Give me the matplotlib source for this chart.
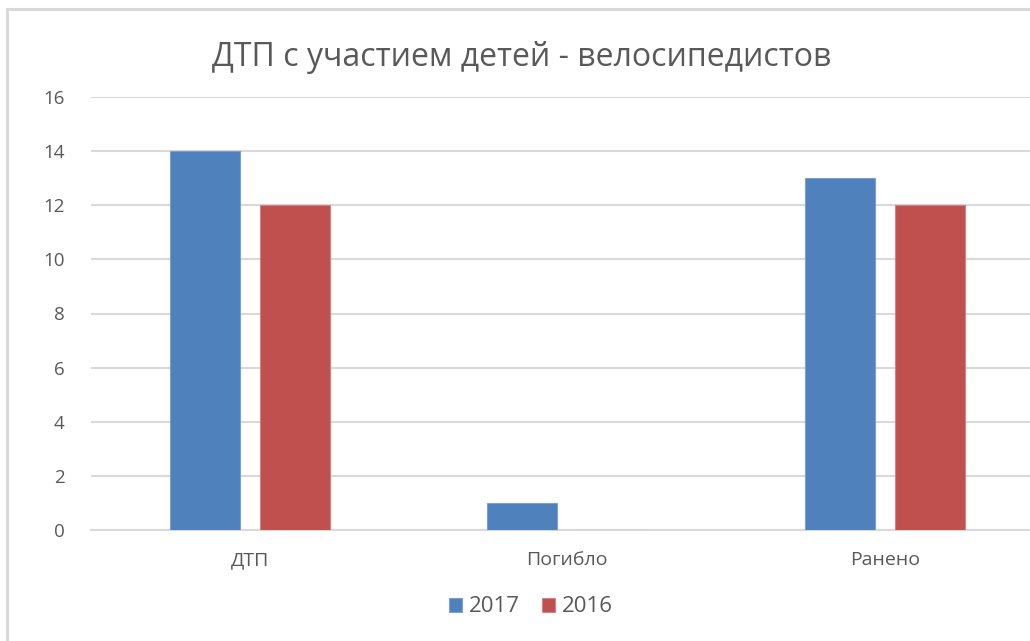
import matplotlib.pyplot as plt
from matplotlib.patches import Rectangle
import numpy as np

categories = ['ДТП', 'Погибло', 'Ранено']
values_2017 = [14, 1, 13]
values_2016 = [12, 0, 12]
series_labels = ['2017', '2016']
y_ticks = [0, 2, 4, 6, 8, 10, 12, 14, 16]

blue = '#4F81BD'
red = '#C0504D'
text_gray = '#595959'
grid_gray = '#D9D9D9'

plt.rcParams['font.family'] = ['Open Sans', 'DejaVu Sans']

W, H = 1030, 641
fig = plt.figure(figsize=(W / 100, H / 100), dpi=100)

# plot area (the original chart is cut off on the right)
left, right, bottom, top = 91, 1043.5, 530, 97
ax = fig.add_axes([left / W, 1 - bottom / H, (right - left) / W, (bottom - top) / H])

x = np.arange(len(categories))
bar_w = 0.2205
offset = 0.1417
ax.bar(x - offset, values_2017, width=bar_w, color=blue, edgecolor='#7BA0CD',
       linewidth=0.8, label=series_labels[0], zorder=3)
ax.bar(x + offset, values_2016, width=bar_w, color=red, edgecolor='#D08482',
       linewidth=0.8, label=series_labels[1], zorder=3)

ax.set_xlim(-0.5, 2.5)
ax.set_ylim(0, 16)
ax.set_yticks(y_ticks)
ax.set_xticks(x)
ax.set_xticklabels(categories)
ax.tick_params(axis='both', length=0, colors=text_gray)
ax.tick_params(axis='y', pad=19, labelsize=13.5)
ax.tick_params(axis='x', pad=15, labelsize=14)
ax.grid(axis='y', color=grid_gray, linewidth=1.5, zorder=0)
for s in ['top', 'right', 'left']:
    ax.spines[s].set_visible(False)
ax.spines['bottom'].set_color(grid_gray)
ax.spines['bottom'].set_linewidth(1.5)

fig.text(522 / W, 1 - 57 / H, 'ДТП с участием детей - велосипедистов',
         ha='center', va='center', fontsize=23, color=text_gray)

fig.legend(loc='center', bbox_to_anchor=(531 / W, 1 - 607 / H), ncol=2,
           frameon=False, handlelength=0.6, handleheight=0.6,
           handletextpad=0.3, columnspacing=1.0, fontsize=16,
           labelcolor=text_gray)

# chart border
fig.patches.append(Rectangle((7 / W, -0.1), 1.2, 1 - 9 / H + 0.1, transform=fig.transFigure,
                             fill=False, edgecolor=grid_gray, linewidth=2.2))

fig.savefig('out.png', dpi=100)
